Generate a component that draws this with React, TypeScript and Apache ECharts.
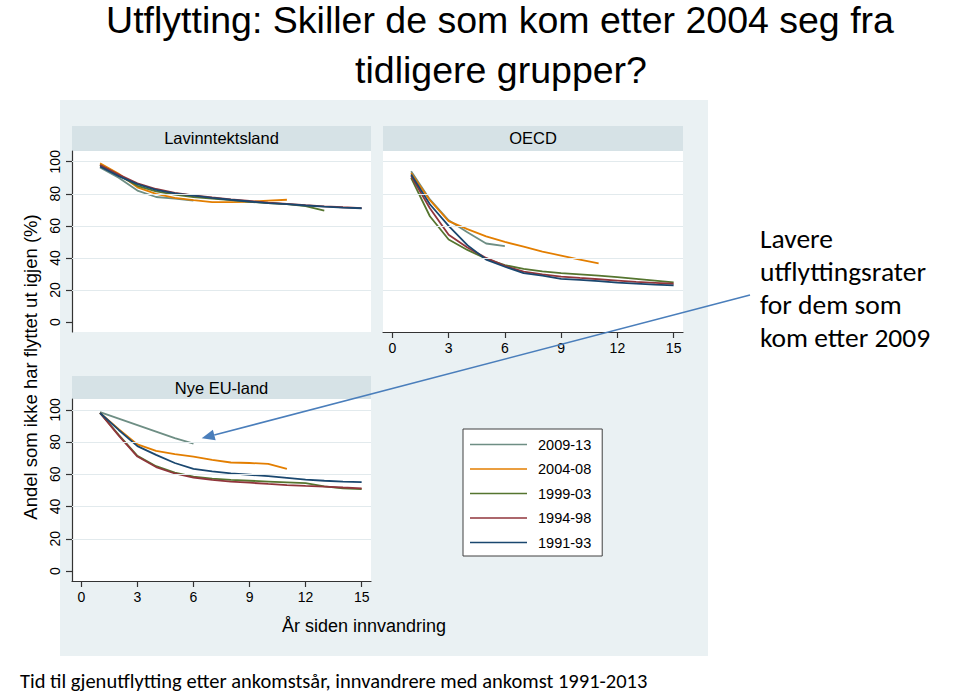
import React, { useEffect, useRef } from "react";
import * as echarts from "echarts";

// ---- data ----
const years = [1, 2, 3, 4, 5, 6, 7, 8, 9, 10, 11, 12, 13, 14, 15];
const xTicks = [0, 3, 6, 9, 12, 15];
const yTicks = [0, 20, 40, 60, 80, 100];
const gridValues = [20, 40, 60, 80, 100];
const cohorts = ["2009-13", "2004-08", "1999-03", "1994-98", "1991-93"];
const cohortColors = ["#6e8e84", "#e37e00", "#55752f", "#90353b", "#1a476f"];
const panelTitles = ["Lavinntektsland", "OECD", "Nye EU-land"];

// Lavinntektsland
const lav2009 = [96.5, 90, 82, 78, 77, 75.8];
const lav2004 = [99, 92.5, 84, 80, 77.5, 76, 74.8, 74.8, 75, 75.8, 76.3];
const lav1999 = [98, 91.5, 85, 81.5, 79.5, 78, 77, 76, 75, 74.2, 73.5, 72.3, 69.5];
const lav1994 = [98, 92, 86.5, 83, 80.5, 79, 77.7, 76.5, 75.5, 74.5, 73.7, 72.9, 72.2, 71.6, 71.1];
const lav1991 = [97, 91, 86, 82.5, 80.3, 78.8, 77.5, 76.3, 75.2, 74.2, 73.5, 72.7, 72, 71.4, 71];

// OECD
const oecd2009 = [94, 76.5, 63.5, 56, 49, 47.4];
const oecd2004 = [93, 76, 63, 58, 53.5, 50, 47, 44, 41.5, 39, 36.6];
const oecd1999 = [90, 66, 51.5, 45, 39.5, 35.5, 33.2, 31.6, 30.5, 29.8, 29, 28, 27, 25.9, 24.8];
const oecd1994 = [91, 71, 54.5, 46.5, 40, 35, 31.5, 29.7, 28.4, 27.5, 26.7, 25.9, 25.1, 24.5, 23.9];
const oecd1991 = [92, 73.5, 60, 48, 39, 34.5, 30.5, 29, 27, 26.3, 25.5, 24.6, 24, 23.4, 22.9];

// Nye EU-land
const eu2009 = [98.5, 94.5, 90.5, 86.5, 82.4, 79];
const eu2004 = [98, 88, 78.5, 74.5, 72.5, 71, 69, 67.3, 67, 66.5, 63.3];
const eu1999 = [98, 84.5, 71.5, 65, 61, 58.5, 57.3, 56.5, 56, 55.5, 55, 54.5, 52.5, 51.3, 50.8];
const eu1994 = [98, 84, 71, 64.5, 60.5, 58, 56.5, 55.5, 54.8, 54, 53.3, 52.8, 52.4, 51.8, 51.3];
const eu1991 = [98, 87.5, 77.5, 72, 67, 63.3, 61.8, 60.5, 59.7, 58.8, 57.8, 56.7, 56, 55.5, 55.1];

const panelData = [
  [lav2009, lav2004, lav1999, lav1994, lav1991],
  [oecd2009, oecd2004, oecd1999, oecd1994, oecd1991],
  [eu2009, eu2004, eu1999, eu1994, eu1991],
];

const annotationLines = ["Lavere", "utflyttingsrater", "for dem som", "kom etter 2009"];

const FONT = '"Liberation Sans", Arial, sans-serif';
const CAL = 'Carlito, Lato, "Open Sans", sans-serif';

// panel geometry
const grids = [
  { left: 72, top: 151, width: 299, height: 181 },
  { left: 383, top: 151, width: 300, height: 181 },
  { left: 72, top: 399, width: 299, height: 182 },
];
const headers = [
  { x: 72, y: 126, w: 299, h: 25, ty: 138 },
  { x: 383, y: 126, w: 300, h: 25, ty: 138 },
  { x: 72, y: 376, w: 299, h: 23, ty: 387.5 },
];
const showX = [false, true, true];
const showY = [true, false, true];

export default function App() {
  const ref = useRef<HTMLDivElement>(null);
  useEffect(() => {
    if (!ref.current) return;
    const chart = echarts.init(ref.current, null, { renderer: "svg" });
    const axisColor = "#333";

    const xAxis = grids.map((_, i) => ({
      type: "value",
      gridIndex: i,
      min: -0.5,
      max: 15.5,
      show: showX[i],
      axisLine: { show: true, onZero: false, lineStyle: { color: axisColor, width: 1.2 } },
      axisTick: { show: true, length: 6, customValues: xTicks, lineStyle: { color: axisColor, width: 1.2 } },
      axisLabel: { customValues: xTicks, margin: 9, fontSize: 14, color: "#000", fontFamily: FONT },
      splitLine: { show: false },
    }));
    const yAxis = grids.map((_, i) => ({
      type: "value",
      gridIndex: i,
      min: -6.2,
      max: 106.7,
      show: showY[i],
      axisLine: { show: true, onZero: false, lineStyle: { color: axisColor, width: 1.2 } },
      axisTick: { show: true, length: 6, customValues: yTicks, lineStyle: { color: axisColor, width: 1.2 } },
      axisLabel: { customValues: yTicks, rotate: 90, margin: 10, fontSize: 14, color: "#000", fontFamily: FONT },
      splitLine: { show: false },
    }));

    const series: any[] = [];
    grids.forEach((_, gi) => {
      series.push({
        type: "line",
        xAxisIndex: gi,
        yAxisIndex: gi,
        data: [],
        silent: true,
        z: 1,
        markLine: {
          silent: true,
          symbol: ["none", "none"],
          label: { show: false },
          lineStyle: { color: "#e2eaed", width: 1, type: "solid" },
          data: gridValues.map((v) => ({ yAxis: v })),
        },
      });
      cohorts.forEach((c, ci) => {
        const vals = panelData[gi][ci];
        series.push({
          type: "line",
          name: c,
          xAxisIndex: gi,
          yAxisIndex: gi,
          data: vals.map((v, j) => [years[j], v]),
          symbol: "none",
          showSymbol: false,
          silent: true,
          z: 2,
          lineStyle: { width: 1.8, color: cohortColors[ci] },
          itemStyle: { color: cohortColors[ci] },
        });
      });
    });

    // arrow geometry
    const ax0 = 750, ay0 = 295, ax1 = 201.7, ay1 = 438.3;
    const dx = ax1 - ax0, dy = ay1 - ay0;
    const len = Math.sqrt(dx * dx + dy * dy);
    const ux = dx / len, uy = dy / len;
    const hl = 13, hw = 5.5;
    const bx = ax1 - ux * hl, by = ay1 - uy * hl;
    const nx = -uy, ny = ux;

    const graphic: any[] = [
      { type: "rect", z: -10, silent: true, shape: { x: 60, y: 100, width: 648, height: 556 }, style: { fill: "#eaf1f3" } },
      ...headers.flatMap((h, i) => [
        { type: "rect", z: -5, silent: true, shape: { x: h.x, y: h.y, width: h.w, height: h.h }, style: { fill: "#d6e2e6" } },
        {
          type: "text", z: 5, silent: true, x: h.x + h.w / 2, y: h.ty,
          style: { text: panelTitles[i], font: `16.5px ${FONT}`, fill: "#000", align: "center", verticalAlign: "middle" },
        },
      ]),
      {
        type: "text", silent: true, x: 30, y: 367, rotation: Math.PI / 2,
        style: { text: "Andel som ikke har flyttet ut igjen (%)", font: `18.5px ${FONT}`, fill: "#000", align: "center", verticalAlign: "middle" },
      },
      {
        type: "text", silent: true, x: 364, y: 626,
        style: { text: "År siden innvandring", font: `18px ${FONT}`, fill: "#000", align: "center", verticalAlign: "middle" },
      },
      {
        type: "text", silent: true, x: 500, y: 20,
        style: { text: "Utflytting: Skiller de som kom etter 2004 seg fra", font: `37.5px ${FONT}`, fill: "#000", align: "center", verticalAlign: "middle" },
      },
      {
        type: "text", silent: true, x: 501, y: 70,
        style: { text: "tidligere grupper?", font: `37.5px ${FONT}`, fill: "#000", align: "center", verticalAlign: "middle" },
      },
      ...annotationLines.map((t, i) => ({
        type: "text", silent: true, x: 760, y: 238 + i * 33,
        style: { text: t, font: `27.5px ${CAL}`, lineHeight: 28, fill: "#000", align: "left", verticalAlign: "middle" },
      })),
      {
        type: "text", silent: true, x: 20, y: 680.5,
        style: { text: "Tid til gjenutflytting etter ankomstsår, innvandrere med ankomst 1991-2013", font: `20.5px ${CAL}`, lineHeight: 21, fill: "#000", align: "left", verticalAlign: "middle" },
      },
      {
        type: "line", silent: true, z: 20,
        shape: { x1: ax0, y1: ay0, x2: bx, y2: by },
        style: { stroke: "#4a7ebb", lineWidth: 1.6 },
      },
      {
        type: "polygon", silent: true, z: 20,
        shape: { points: [[ax1, ay1], [bx + nx * hw, by + ny * hw], [bx - nx * hw, by - ny * hw]] },
        style: { fill: "#4a7ebb" },
      },
    ];

    chart.setOption({
      animation: false,
      backgroundColor: "#ffffff",
      grid: grids.map((g) => ({ ...g, show: true, backgroundColor: "#ffffff", borderWidth: 0, containLabel: false })),
      xAxis,
      yAxis,
      legend: {
        data: cohorts,
        orient: "vertical",
        left: 463,
        top: 429,
        icon: "rect",
        itemWidth: 57,
        itemHeight: 1.5,
        itemGap: 8.5,
        padding: [7.5, 11, 5.5, 7],
        backgroundColor: "#ffffff",
        borderColor: "#404040",
        borderWidth: 1,
        selectedMode: false,
        textStyle: { fontSize: 14.5, fontFamily: FONT, color: "#000", lineHeight: 16, padding: [0, 0, 0, 6] },
      },
      series,
      graphic,
    });
    return () => chart.dispose();
  }, []);
  return <div ref={ref} style={{ position: "absolute", left: 0, top: 0, width: 960, height: 692 }} />;
}
